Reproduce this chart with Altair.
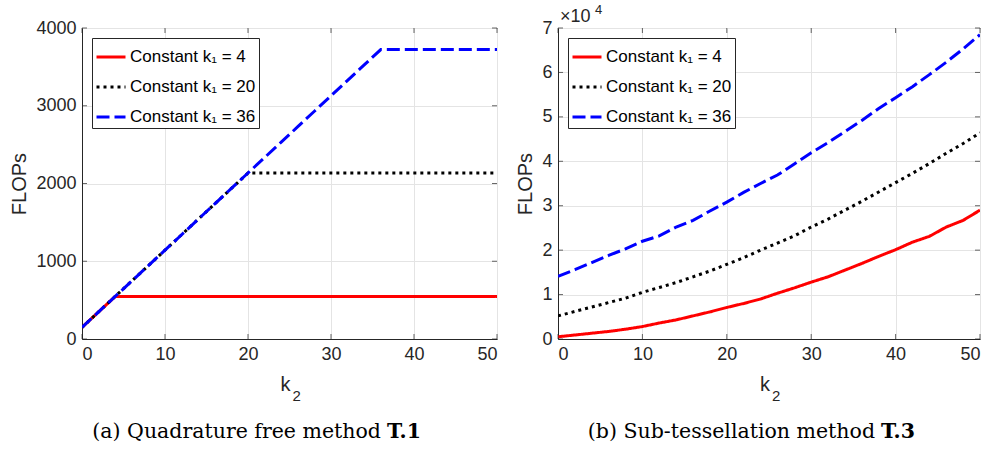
import altair as alt
import pandas as pd

# ---------------- data ----------------
k2 = [0, 2, 4, 6, 8, 10, 12, 14, 16, 18, 20, 22, 24, 26, 28, 30, 32, 34, 36, 38, 40, 42, 44, 46, 48, 50]
series = ["Constant k\u2081 = 4", "Constant k\u2081 = 20", "Constant k\u2081 = 36"]
colors = ["#ff0000", "#000000", "#0000ff"]
dashes = [[1, 0], [3, 4], [13, 5]]

# (a) Quadrature free method T.1  (FLOPs)
t1_k4 = [150, 349, 547, 547, 547, 547, 547, 547, 547, 547, 547, 547, 547,
         547, 547, 547, 547, 547, 547, 547, 547, 547, 547, 547, 547, 547]
t1_k20 = [150, 349, 547, 746, 944, 1143, 1341, 1540, 1738, 1937, 2135, 2135, 2135,
          2135, 2135, 2135, 2135, 2135, 2135, 2135, 2135, 2135, 2135, 2135, 2135, 2135]
t1_k36 = [150, 349, 547, 746, 944, 1143, 1341, 1540, 1738, 1937, 2135, 2334, 2532,
          2731, 2929, 3128, 3326, 3525, 3723, 3723, 3723, 3723, 3723, 3723, 3723, 3723]

# (b) Sub-tessellation method T.3  (FLOPs)
t3_k4 = [500, 900, 1300, 1700, 2200, 2800, 3600, 4300, 5200, 6100, 7100, 8000, 9000,
         10300, 11500, 12800, 14000, 15500, 17000, 18600, 20100, 21800, 23100, 25200, 26700, 29000]
t3_k20 = [5200, 6200, 7200, 8200, 9200, 10500, 11600, 12700, 14000, 15300, 16800, 18300, 20000,
          21600, 23200, 25200, 27000, 29000, 31000, 33100, 35200, 37300, 39500, 41800, 44000, 46400]
t3_k36 = [14100, 15600, 17200, 18800, 20300, 22000, 23200, 25200, 26700, 28800, 30800, 33000, 35000,
          36900, 39400, 41900, 44200, 46700, 49200, 51900, 54300, 56800, 59500, 62300, 65300, 68500]

x_ticks = [0, 10, 20, 30, 40, 50]
y_ticks_a = [0, 1000, 2000, 3000, 4000]
y_ticks_b = [0, 10000, 20000, 30000, 40000, 50000, 60000, 70000]


def long_df(a, b, c):
    rows = []
    for s, vals in zip(series, [a, b, c]):
        for k, v in zip(k2, vals):
            rows.append({"k2": k, "flops": v, "series": s})
    return pd.DataFrame(rows)


TXT = "#262626"
SANS = "Liberation Sans"
SERIF = "DejaVu Serif"
H = 311


def panel(df, W, ymax, yticks, label_expr, cap_a, cap_b, split_x, extra=None):
    xs = alt.Scale(domain=[0, 50], nice=False)
    ys = alt.Scale(domain=[0, ymax], nice=False)
    legend = alt.Legend(
        title=None, orient="top-left", offset=10,
        symbolType="stroke", symbolStrokeWidth=3, symbolSize=841,
        labelFont=SANS, labelFontSize=17, labelColor="black", labelOffset=3,
        strokeColor=TXT, fillColor="white", padding=3, rowPadding=6,
        cornerRadius=0, symbolOffset=0,
    )
    lines = alt.Chart(df).mark_line(strokeWidth=3, clip=True).encode(
        x=alt.X("k2:Q", scale=xs, axis=alt.Axis(
            values=x_ticks, grid=True, gridColor="#e4e4e4", ticks=False,
            labelFont=SANS, labelFontSize=18, labelColor=TXT, labelPadding=6,
            domainColor=TXT, title=None)),
        y=alt.Y("flops:Q", scale=ys, axis=alt.Axis(
            values=yticks, grid=True, gridColor="#e4e4e4", ticks=False,
            labelFont=SANS, labelFontSize=18, labelColor=TXT, labelPadding=6,
            labelExpr=label_expr, domainColor=TXT,
            title="FLOPs", titleFont=SANS, titleFontSize=20, titleFontWeight="normal",
            titleColor=TXT, titlePadding=6)),
        color=alt.Color("series:N", sort=series,
                        scale=alt.Scale(domain=series, range=colors), legend=legend),
        strokeDash=alt.StrokeDash("series:N", sort=series,
                                  scale=alt.Scale(domain=series, range=dashes), legend=legend),
        order=alt.Order("series_order:Q"),
    ).transform_calculate(
        series_order="indexof(%s, datum.series)" % str(series)
    )

    xt = pd.DataFrame({"v": x_ticks})
    yt = pd.DataFrame({"v": yticks})
    tick_style = dict(color=TXT, thickness=1, size=5)
    bx = alt.Chart(xt).mark_tick(orient="vertical", **tick_style).encode(
        x=alt.X("v:Q", scale=xs), y=alt.value(H - 2.5))
    tx = alt.Chart(xt).mark_tick(orient="vertical", **tick_style).encode(
        x=alt.X("v:Q", scale=xs), y=alt.value(2.5))
    ly = alt.Chart(yt).mark_tick(orient="horizontal", **tick_style).encode(
        y=alt.Y("v:Q", scale=ys), x=alt.value(2.5))
    ry = alt.Chart(yt).mark_tick(orient="horizontal", **tick_style).encode(
        y=alt.Y("v:Q", scale=ys), x=alt.value(W - 2.5))

    one = pd.DataFrame({"a": [0]})
    kt = alt.Chart(one).mark_text(font=SANS, fontSize=20, color=TXT, align="center",
                                  baseline="alphabetic").encode(
        x=alt.value(W / 2 - 4), y=alt.value(H + 52), text=alt.value("k"))
    ks = alt.Chart(one).mark_text(font=SANS, fontSize=15, color=TXT, align="left",
                                  baseline="alphabetic").encode(
        x=alt.value(W / 2 + 3), y=alt.value(H + 62), text=alt.value("2"))
    ca = alt.Chart(one).mark_text(font=SERIF, fontSize=20.5, color="black", align="right",
                                  baseline="middle").encode(
        x=alt.value(split_x), y=alt.value(H + 93), text=alt.value(cap_a))
    cb = alt.Chart(one).mark_text(font=SERIF, fontSize=20.5, color="black", align="left",
                                  baseline="middle", fontWeight="bold").encode(
        x=alt.value(split_x + 6), y=alt.value(H + 93), text=alt.value(cap_b))

    layers = [lines, bx, tx, ly, ry, kt, ks, ca, cb]
    if extra:
        layers += extra
    return alt.layer(*layers).properties(width=W, height=H)


df_a = long_df(t1_k4, t1_k20, t1_k36)
df_b = long_df(t3_k4, t3_k20, t3_k36)

one = pd.DataFrame({"a": [0]})
exp_x = alt.Chart(one).mark_text(font=SANS, fontSize=18, color=TXT, align="left",
                                 baseline="middle").encode(
    x=alt.value(2), y=alt.value(-11), text=alt.value("\u00d710"))
exp_4 = alt.Chart(one).mark_text(font=SANS, fontSize=13, color=TXT, align="left",
                                 baseline="middle").encode(
    x=alt.value(37), y=alt.value(-18), text=alt.value("4"))

left = panel(df_a, 415, 4000, y_ticks_a, "format(datum.value, 'd')",
             "(a) Quadrature free method", "T.1", 299)
right = panel(df_b, 422, 70000, y_ticks_b, "format(datum.value / 10000, 'd')",
              "(b) Sub-tessellation method", "T.3", 317, extra=[exp_x, exp_4])

chart = alt.hconcat(left, right, spacing=61, bounds="flush").resolve_scale(
    color="independent", strokeDash="independent", x="independent", y="independent"
).configure_view(stroke=TXT, strokeWidth=1).properties(
    padding={"left": 9, "top": 3, "right": 5, "bottom": 5}
)

chart.save("out.html", embed_options={"renderer": "svg", "actions": False})
